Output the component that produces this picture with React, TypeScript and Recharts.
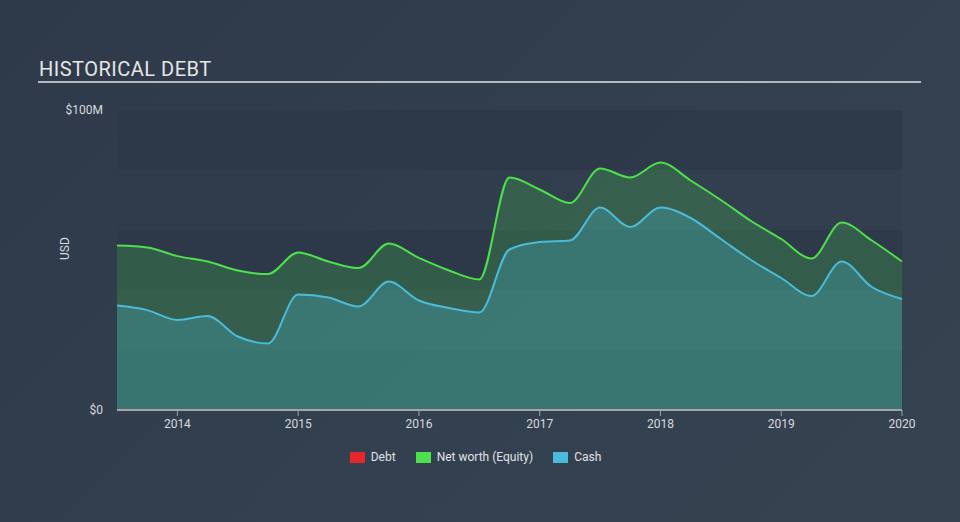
import { Area, ComposedChart, ReferenceArea, XAxis, YAxis } from "recharts"

// quarterly points, mid 2013 to early 2020 (USD millions)
const dates = [
  2013.5, 2013.75, 2014, 2014.25, 2014.5, 2014.75, 2015, 2015.25, 2015.5, 2015.75,
  2016, 2016.25, 2016.5, 2016.75, 2017, 2017.25, 2017.5, 2017.75, 2018, 2018.25,
  2018.5, 2018.75, 2019, 2019.25, 2019.5, 2019.75, 2020,
]
const debt = [0, 0, 0, 0, 0, 0, 0, 0, 0, 0, 0, 0, 0, 0, 0, 0, 0, 0, 0, 0, 0, 0, 0, 0, 0, 0, 0]
const equity = [
  54.8, 54.2, 51.3, 49.5, 46.5, 45.3, 52.5, 49.5, 47.3, 55.5,
  50.7, 46.5, 43.5, 77.5, 73.5, 69.0, 80.5, 77.5, 82.5, 76.5,
  70.0, 63.0, 57.0, 50.5, 62.5, 56.5, 49.5,
]
const cash = [
  34.8, 33.3, 30.0, 31.3, 24.5, 22.2, 38.5, 37.5, 34.5, 42.8,
  36.5, 34.0, 32.5, 53.5, 56.0, 56.5, 67.5, 61.0, 67.5, 64.0,
  57.0, 50.0, 44.0, 38.0, 49.5, 41.0, 37.0,
]
const yearTicks = [2014, 2015, 2016, 2017, 2018, 2019, 2020]
const valueTicks = [0, 100]
const bands = [
  [80, 100],
  [40, 60],
  [0, 20],
]
const legendItems = [
  { name: "Debt", color: "#e5262b" },
  { name: "Net worth (Equity)", color: "#4ee04c" },
  { name: "Cash", color: "#4bbbdb" },
]

const data = dates.map((d, i) => ({ date: d, debt: debt[i], equity: equity[i], cash: cash[i] }))

const font = "Roboto, 'Noto Sans', sans-serif"

export default function App() {
  return (
    <div
      style={{
        position: "fixed",
        left: 0,
        top: 0,
        width: 960,
        height: 522,
        background: "linear-gradient(135deg, #2e3a4a 0%, #334050 60%, #35424f 100%)",
        fontFamily: font,
        overflow: "hidden",
      }}
    >
      <div style={{ position: "absolute", left: 39, top: 57, fontSize: 20, color: "#e6e6e6", letterSpacing: 0.5 }}>
        HISTORICAL DEBT
      </div>
      <div style={{ position: "absolute", left: 38, top: 81, width: 883, height: 2, background: "#b5b9bf" }} />

      <ComposedChart width={960} height={522} data={data} margin={{ top: 110, right: 58, bottom: 82, left: 57 }}>
        {bands.map(([a, b], i) => (
          <ReferenceArea key={i} y1={a} y2={b} fill="#2a3545" fillOpacity={0.55} stroke="none" ifOverflow="hidden" />
        ))}
        <ReferenceArea y1={0} y2={100} x1={2013.5} x2={2020} fill="#2f3b4b" fillOpacity={0.25} stroke="none" />
        <XAxis
          dataKey="date"
          type="number"
          domain={[2013.5, 2020]}
          ticks={yearTicks}
          tick={{ fill: "#d8dadd", fontSize: 12 }}
          tickLine={{ stroke: "#9ea3aa" }}
          tickSize={6}
          tickMargin={3}
          axisLine={{ stroke: "#a9a3a8", strokeWidth: 2 }}
          height={30}
          allowDecimals={false}
        />
        <YAxis
          type="number"
          domain={[0, 100]}
          ticks={valueTicks}
          width={60}
          tickLine={false}
          axisLine={false}
          tickSize={0}
          tickMargin={14}
          tick={{ fill: "#d8dadd", fontSize: 12 }}
          tickFormatter={(v: number) => (v === 0 ? "$0" : `$${v}M`)}
          label={{ value: "USD", angle: -90, position: "insideLeft", offset: 8, fill: "#d8dadd", fontSize: 12 }}
        />
        <Area
          type="monotone"
          dataKey="equity"
          stroke="#4ee04c"
          strokeWidth={2}
          fill="#4ce54c"
          fillOpacity={0.2}
          isAnimationActive={false}
          dot={false}
          activeDot={false}
        />
        <Area
          type="monotone"
          dataKey="cash"
          stroke="#4bbbdb"
          strokeWidth={2}
          fill="#4bbbdb"
          fillOpacity={0.27}
          isAnimationActive={false}
          dot={false}
          activeDot={false}
        />
        <Area
          type="monotone"
          dataKey="debt"
          stroke="#e5262b"
          strokeOpacity={0.4}
          strokeWidth={1}
          fill="#e5262b"
          fillOpacity={0.2}
          isAnimationActive={false}
          dot={false}
          activeDot={false}
        />
      </ComposedChart>

      <div
        style={{
          position: "absolute",
          left: 0,
          top: 450,
          width: 951,
          display: "flex",
          justifyContent: "center",
          gap: 20,
          fontSize: 12,
          color: "#e0e2e5",
        }}
      >
        {legendItems.map((item) => (
          <div key={item.name} style={{ display: "flex", alignItems: "center", gap: 6 }}>
            <div style={{ width: 15, height: 11, background: item.color }} />
            <span>{item.name}</span>
          </div>
        ))}
      </div>
    </div>
  )
}
